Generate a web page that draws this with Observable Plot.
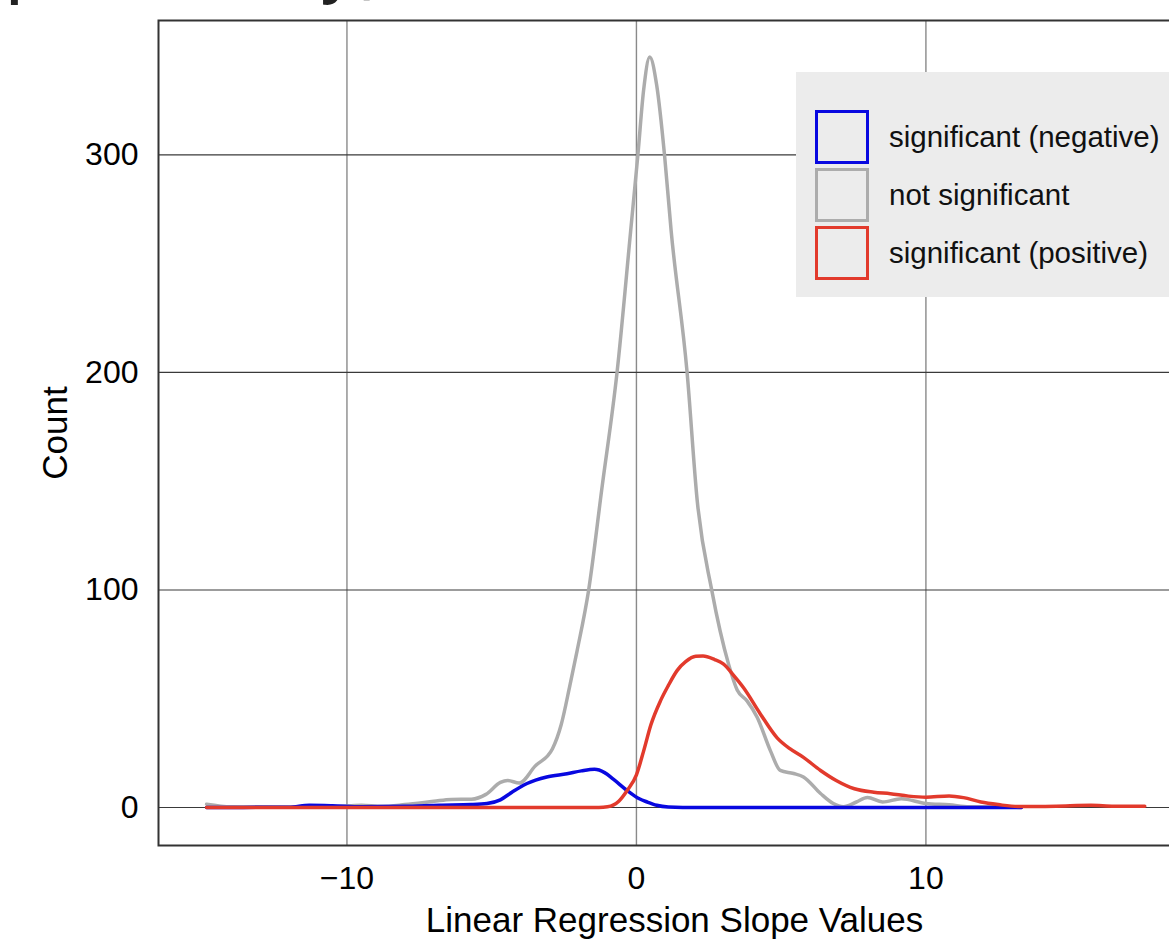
<!DOCTYPE html>
<html>
<head>
<meta charset="utf-8">
<script src="https://cdn.jsdelivr.net/npm/d3@7"></script>
<script src="https://cdn.jsdelivr.net/npm/@observablehq/plot@0.6"></script>
<style>
  html, body { margin: 0; padding: 0; overflow: hidden; background: #fff; }
  #wrap { position: relative; width: 1169px; height: 939px; overflow: hidden; background: #fff; }
  #frag { position: absolute; left: 6px; top: -62px; font-family: "Open Sans", sans-serif; font-weight: 600;
          font-size: 60px; line-height: 60px; letter-spacing: 8px; color: #222; white-space: nowrap; }
  #chart { position: absolute; left: 0; top: 0; width: 1200px; }
  #chart svg { max-width: none !important; width: 1200px; height: 939px; }
  #legend { position: absolute; left: 796px; top: 72px; width: 420px; height: 225px; background: #ececec;
            font-family: "Liberation Sans", Arial, sans-serif; font-size: 29.5px; color: #111; }
  .item { position: absolute; left: 19px; height: 53px; display: flex; align-items: center; }
  .sw { width: 48px; height: 48px; border: 3px solid; box-sizing: content-box; margin-right: 20px; }
  g[aria-label="y-axis label"] text, g[aria-label="x-axis label"] text { font-size: 35px; }
</style>
</head>
<body>
<div id="wrap">
  <div id="frag">positively).</div>
  <div id="chart"></div>
  <div id="legend"></div>
</div>
<script>
// ---- data ----
const xTicks = [-10, 0, 10];
const yTicks = [0, 100, 200, 300];
const seriesNames = ["significant (negative)", "not significant", "significant (positive)"];

const nsSlope = [-14.85, -14.0, -12.0, -10.5, -9.5, -8.8, -8.0, -7.0, -6.4, -5.7, -5.2, -4.7, -4.45, -4.05, -3.5, -2.9, -2.6, -2.3, -2.05, -1.65, -1.2, -0.67, -0.2, 0.05, 0.25, 0.46, 0.7, 0.97, 1.2, 1.75, 2.1, 2.6, 3.18, 3.48, 3.82, 4.17, 4.63, 4.97, 5.43, 5.77, 6.36, 6.8, 7.15, 7.6, 7.98, 8.5, 9.15, 10.0, 10.8, 11.5, 12.5, 13.3];
const nsCount = [1.5, 0.3, 0.2, 0.3, 1.0, 0.5, 1.3, 2.8, 3.7, 3.8, 6, 11.5, 12.4, 11.2, 19, 27, 38, 56, 72, 100, 146, 200, 265, 300, 330, 345, 332, 300, 265, 200, 141, 100, 66, 54, 49, 41.5, 26, 17, 15.6, 14, 6.4, 1.8, 0.3, 2.5, 4.6, 2.5, 4, 1.8, 1.2, 0.3, 0.3, 0];

const negSlope = [-14.85, -12.0, -11.3, -10.5, -9.5, -8.0, -6.8, -5.7, -5.16, -4.7, -4.3, -3.78, -3.1, -2.4, -1.9, -1.45, -1.1, -0.8, -0.32, 0.1, 0.37, 0.7, 1.1, 1.6, 13.3];
const negCount = [0, 0.1, 1.0, 0.8, 0.3, 0.5, 1.0, 1.3, 1.8, 3.5, 7, 11, 14, 15.5, 16.8, 17.5, 16, 13, 7.8, 4, 2.5, 1, 0.2, 0, 0];

const posSlope = [-14.85, -5.0, -1.3, -1.0, -0.6, -0.32, 0.0, 0.25, 0.5, 0.83, 1.1, 1.41, 1.7, 2.05, 2.3, 2.7, 3.0, 3.4, 3.7, 4.28, 4.86, 5.3, 5.77, 6.36, 6.9, 7.53, 8.2, 8.77, 9.4, 10.0, 10.8, 11.3, 11.9, 12.5, 13.2, 14.5, 15.7, 16.5, 17.56];
const posCount = [0, 0, 0, 0.3, 3, 7.8, 15, 26, 38, 49, 56, 63, 67, 69.5, 69.6, 68, 66, 60, 55, 43, 32, 27, 23, 17, 12.4, 8.6, 7, 6.3, 5.2, 4.7, 5.3, 4.5, 2.5, 1.3, 0.4, 0.6, 1.0, 0.6, 0.6];

// ---- table for Plot (draw order: grey, blue, red) ----
const rows = (xs, ys, g) => xs.map((x, i) => ({slope: x, count: ys[i], group: g}));
const data = [
  ...rows(nsSlope, nsCount, seriesNames[1]),
  ...rows(negSlope, negCount, seriesNames[0]),
  ...rows(posSlope, posCount, seriesNames[2])
];
const colorRange = ["#0808e0", "#acacac", "#e23a2c"];

const chart = Plot.plot({
  width: 1200,
  height: 939,
  marginLeft: 158,
  marginRight: 10,
  marginTop: 20,
  marginBottom: 94,
  style: {fontFamily: "'Liberation Sans', Arial, sans-serif", fontSize: "32px", color: "#000", background: "transparent"},
  x: {domain: [-16.51, 19.14]},
  y: {domain: [-17.5, 361.8]},
  color: {domain: seriesNames, range: colorRange},
  marks: [
    Plot.gridX(xTicks, {stroke: "#8a8a8a", strokeOpacity: 1, strokeWidth: 1.4}),
    Plot.gridY(yTicks, {stroke: "#3a3a3a", strokeOpacity: 1, strokeWidth: 1.1}),
    Plot.frame({stroke: "#333", strokeWidth: 2}),
    Plot.line(data, {x: "slope", y: "count", z: "group", stroke: "group", curve: "monotone-x", strokeWidth: 3.5}),
    Plot.axisX(xTicks, {tickSize: 0, tickPadding: 21, fontSize: 32, label: "Linear Regression Slope Values", labelAnchor: "center", labelOffset: 86, labelArrow: "none"}),
    Plot.axisY(yTicks, {tickSize: 0, tickPadding: 20, fontSize: 32, label: "Count", labelAnchor: "center", labelOffset: 116, labelArrow: "none"})
  ]
});
document.getElementById("chart").appendChild(chart);

// ---- legend ----
const legend = document.getElementById("legend");
seriesNames.forEach((name, i) => {
  const item = document.createElement("div");
  item.className = "item";
  item.style.top = (38 + i * 58) + "px";
  const sw = document.createElement("div");
  sw.className = "sw";
  sw.style.borderColor = colorRange[i];
  const tx = document.createElement("span");
  tx.textContent = name;
  item.appendChild(sw);
  item.appendChild(tx);
  legend.appendChild(item);
});
</script>
</body>
</html>
